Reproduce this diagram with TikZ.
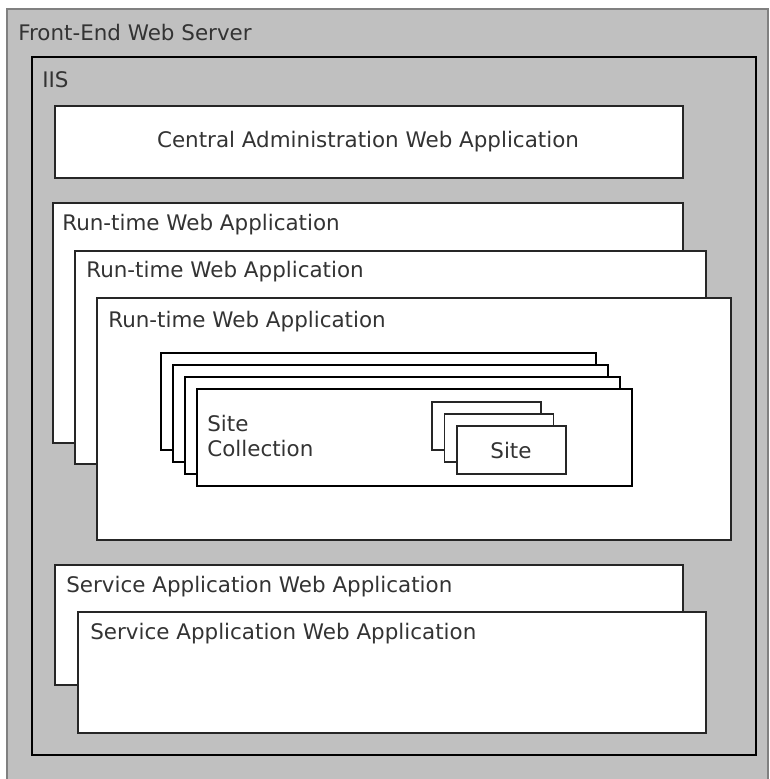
\documentclass[tikz,border=0pt]{standalone}
\usepackage{fontspec}
\setmainfont{DejaVu Sans}
\usepackage{tikz}
\definecolor{srvgray}{HTML}{C0C0C0}
\tikzset{
  appbox/.style={fill=white,draw=black!85,line width=.7pt},
  collbox/.style={fill=white,draw=black,line width=1.5pt},
  lbl/.style={anchor=west,inner sep=0pt,text=black!80,font=\fontsize{12.2}{14}\selectfont},
}

\begin{document}
\begin{tikzpicture}[x=0.02cm,y=-0.02cm,line join=miter]
\useasboundingbox (0,0) rectangle (769,779);
% server and IIS
\filldraw[fill=srvgray,draw=black!50,line width=.8pt](7,9) rectangle (768,795);
\path (18,32) node[lbl] (fes) {Front-End Web Server};
\draw[line width=1.6pt](32,57) rectangle (756,755);
\path (42,80) node[lbl] (iis) {IIS};
% central administration
\filldraw[appbox](55,106) rectangle (683,178);
\path (368,142) node[lbl,anchor=center] (cawa) {Central Administration Web Application};
% run-time web applications
\filldraw[appbox](53,203) rectangle (683,443);
\path (62,225) node[lbl] (rt1) {Run-time Web Application};
\filldraw[appbox](75,251) rectangle (706,464);
\path (86,272) node[lbl] (rt2) {Run-time Web Application};
\filldraw[appbox](97,298) rectangle (731,540);
\path (108,322) node[lbl] (rt3) {Run-time Web Application};
% site collections
\foreach \k in {0,...,3}
  \filldraw[collbox](161+12*\k,353+12*\k) rectangle (596+12*\k,450+12*\k);
\path (207,436) node[lbl,align=left] (sc) {Site\\Collection};
% sites
\foreach \k in {0,1,2}
  \filldraw[appbox](432+12.5*\k,402+12*\k) rectangle (541+12.5*\k,450+12*\k);
\path (511,450) node[lbl,anchor=center] (site) {Site};
% service application web applications
\filldraw[appbox](55,565) rectangle (683,685);
\path (66,587) node[lbl] (sa1) {Service Application Web Application};
\filldraw[appbox](78,612) rectangle (706,733);
\path (90,634) node[lbl] (sa2) {Service Application Web Application};
\end{tikzpicture}
\end{document}
